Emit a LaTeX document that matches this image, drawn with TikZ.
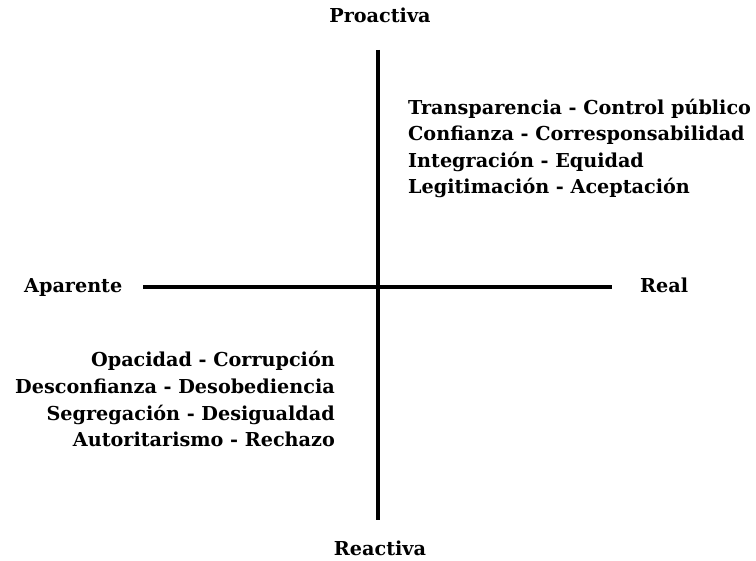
\documentclass[tikz,border=0pt]{standalone}
\usepackage{fontspec}
\setmainfont{DejaVu Serif}
\usetikzlibrary{positioning}

\begin{document}
\begin{tikzpicture}[x=1pt, y=-1pt,
        axisline/.style={line width=3.5pt},
        label/.style={font=\fontsize{19.2}{26.5}\selectfont\bfseries, inner sep=0pt}]
    \useasboundingbox (0,0) rectangle (756,561);

    % ejes
    \coordinate (arriba) at (378,50);
    \coordinate (abajo) at (378,520);
    \coordinate (izq) at (143,287);
    \coordinate (der) at (612,287);
    \draw[axisline] (arriba) -- (abajo);
    \draw[axisline] (izq) -- (der);

    % extremos
    \node[label, anchor=base] (proactiva) at (380,23) {Proactiva};
    \node[label, anchor=base] (reactiva) at (380,555) {Reactiva};
    \node[label, anchor=base west] (aparente) at (24,293) {Aparente};
    \node[label, anchor=base west] (real) at (640,293) {Real};

    % cuadrantes
    \node[label, anchor=base west] (t1) at (408,115) {Transparencia - Control público};
    \node[label, anchor=base west] (t2) at (408,141) {Confianza - Corresponsabilidad};
    \node[label, anchor=base west] (t3) at (408,168) {Integración - Equidad};
    \node[label, anchor=base west] (t4) at (408,194) {Legitimación - Aceptación};

    \node[label, anchor=base east] (b1) at (335,367) {Opacidad - Corrupción};
    \node[label, anchor=base east] (b2) at (335,394) {Desconfianza - Desobediencia};
    \node[label, anchor=base east] (b3) at (335,421) {Segregación - Desigualdad};
    \node[label, anchor=base east] (b4) at (335,447) {Autoritarismo - Rechazo};
\end{tikzpicture}
\end{document}
